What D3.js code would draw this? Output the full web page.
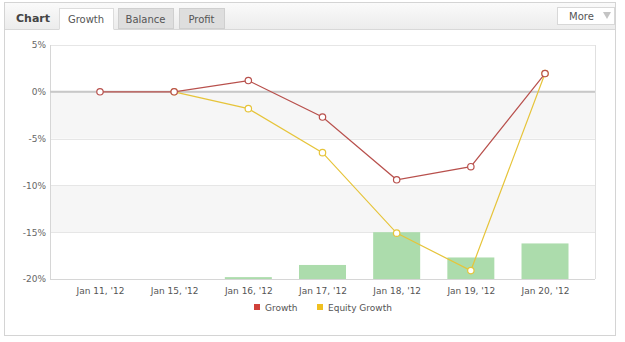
<!DOCTYPE html>
<html><head><meta charset="utf-8">
<script src="https://cdn.jsdelivr.net/npm/d3@7"></script>
<style>
body{margin:0;background:#fff;}
svg{display:block;font-family:"DejaVu Sans",Verdana,sans-serif;}
</style></head>
<body><svg id="c" width="625" height="342"></svg>
<script>
const categories = ["Jan 11, '12","Jan 15, '12","Jan 16, '12","Jan 17, '12","Jan 18, '12","Jan 19, '12","Jan 20, '12"];
const growth = [0, 0, 1.2, -2.7, -9.4, -8.0, 1.95];
const equityGrowth = [0, 0, -1.8, -6.5, -15.1, -19.1, 1.95];
const barValues = [0, 0, 0.08, 0.6, 2.0, 0.92, 1.52];
const yTicks = [5, 0, -5, -10, -15, -20];
const tabs = ["Growth","Balance","Profit"];
const legendItems = ["Growth","Equity Growth"];

const svg = d3.select("#c");
const L=50, R=595, T=45, B=279;

// outer frame
svg.append("rect").attr("x",4.5).attr("y",2.5).attr("width",611).attr("height",333)
  .attr("fill","#fff").attr("stroke","#d4d4d4");
const defs = svg.append("defs");
const g1 = defs.append("linearGradient").attr("id","hdr").attr("x1",0).attr("y1",0).attr("x2",0).attr("y2",1);
g1.append("stop").attr("offset","0").attr("stop-color","#fafafa");
g1.append("stop").attr("offset","1").attr("stop-color","#ececec");
svg.append("rect").attr("x",5).attr("y",3).attr("width",610).attr("height",26).attr("fill","url(#hdr)");
svg.append("line").attr("x1",5).attr("x2",615).attr("y1",29.5).attr("y2",29.5).attr("stroke","#d8d8d8");
svg.append("text").attr("x",16).attr("y",22).attr("font-size",11).attr("font-weight","bold").attr("fill","#444").text("Chart");
const tabX = [59,118,179], tabW=[54,55,45];
tabs.forEach((t,i)=>{
  const active = i===0;
  svg.append("rect").attr("x",tabX[i]+0.5).attr("y",8.5).attr("width",tabW[i]).attr("height",active?21:20)
    .attr("fill",active?"#fff":"#dedede").attr("stroke",active?"#dcdcdc":"#cfcfcf");
  svg.append("text").attr("x",tabX[i]+tabW[i]/2).attr("y",23).attr("text-anchor","middle")
    .attr("font-size",10).attr("fill","#555").text(t);
});
if(true){ svg.append("line").attr("x1",59.5).attr("x2",113.5).attr("y1",29.5).attr("y2",29.5).attr("stroke","#fff"); }
svg.append("rect").attr("x",557.5).attr("y",7.5).attr("width",57).attr("height",17).attr("fill","#fff").attr("stroke","#d8d8d8");
svg.append("text").attr("x",569).attr("y",19.5).attr("font-size",10).attr("fill","#555").text("More");
svg.append("path").attr("d","M603,12 L611,12 L607,19 Z").attr("fill","#c4c4c4");

const x = d3.scalePoint().domain(categories).range([L,R]).padding(0.674);
const y = d3.scaleLinear().domain([-20,5]).range([B,T]);
const yBar = d3.scaleLinear().domain([0,10]).range([B,T]);

// bands
const bands = [[0,-5],[-10,-15]];
svg.selectAll(".band").data(bands).enter().append("rect")
  .attr("x",L).attr("width",R-L).attr("y",d=>y(d[0])).attr("height",d=>y(d[1])-y(d[0])).attr("fill","#f6f6f6");
// grid
svg.selectAll(".grid").data(yTicks).enter().append("line")
  .attr("x1",L).attr("x2",R).attr("y1",d=>Math.round(y(d))+0.5).attr("y2",d=>Math.round(y(d))+0.5)
  .attr("stroke","#e6e6e6");
// right border
svg.append("line").attr("x1",R+0.5).attr("x2",R+0.5).attr("y1",T).attr("y2",B).attr("stroke","#e0e0e0");

// bars
const bw = 47;
svg.selectAll(".bar").data(barValues).enter().append("rect")
  .attr("x",(d,i)=>x(categories[i])-bw/2).attr("width",bw)
  .attr("y",d=>yBar(d)).attr("height",d=>B-yBar(d)).attr("fill","#acdcac");

// axes lines
svg.append("line").attr("x1",L).attr("x2",R).attr("y1",B+0.5).attr("y2",B+0.5).attr("stroke","#d6d6d6");
svg.append("line").attr("x1",L+0.5).attr("x2",L+0.5).attr("y1",T).attr("y2",B).attr("stroke","#d6d6d6");
svg.append("line").attr("x1",L).attr("x2",R).attr("y1",y(0)).attr("y2",y(0)).attr("stroke","#c8c8c8").attr("stroke-width",2);

// y labels
const yAxis = d3.axisLeft(y).tickValues(yTicks).tickFormat(d=>d+"%").tickSize(0).tickPadding(4);
const ya = svg.append("g").attr("transform",`translate(${L},0)`).call(yAxis);
ya.select(".domain").remove();
ya.selectAll("text").attr("font-size",9).attr("fill","#666").attr("font-family","DejaVu Sans, sans-serif");
// x labels
const xAxis = d3.axisBottom(x).tickSize(0).tickPadding(9);
const xa = svg.append("g").attr("transform",`translate(0,${B})`).call(xAxis);
xa.select(".domain").remove();
xa.selectAll("text").attr("font-size",9).attr("fill","#555").attr("font-family","DejaVu Sans, sans-serif");

// lines
const line = d3.line().x((d,i)=>x(categories[i])).y(d=>y(d));
const series = [
  {vals:equityGrowth, color:"#e6c43a", start:1},
  {vals:growth, color:"#b8504c", start:0}
];
series.forEach(s=>{
  const pts = s.vals.map((v,i)=>({v,i})).filter(p=>p.i>=s.start);
  svg.append("path").attr("d",d3.line().x(p=>x(categories[p.i])).y(p=>y(p.v))(pts))
    .attr("fill","none").attr("stroke",s.color).attr("stroke-width",1.2);
  svg.selectAll(null).data(pts).enter().append("circle")
    .attr("cx",p=>x(categories[p.i])).attr("cy",p=>y(p.v)).attr("r",3.2)
    .attr("fill","#fff").attr("stroke",s.color).attr("stroke-width",1.2);
});

// legend
const legColors = ["#d0413a","#f0c020"];
const legX = [254,317];
legendItems.forEach((t,i)=>{
  svg.append("rect").attr("x",legX[i]).attr("y",304).attr("width",6).attr("height",6).attr("fill",legColors[i]);
  svg.append("text").attr("x",legX[i]+11).attr("y",311).attr("font-size",9).attr("fill","#555").text(t);
});
</script></body></html>
